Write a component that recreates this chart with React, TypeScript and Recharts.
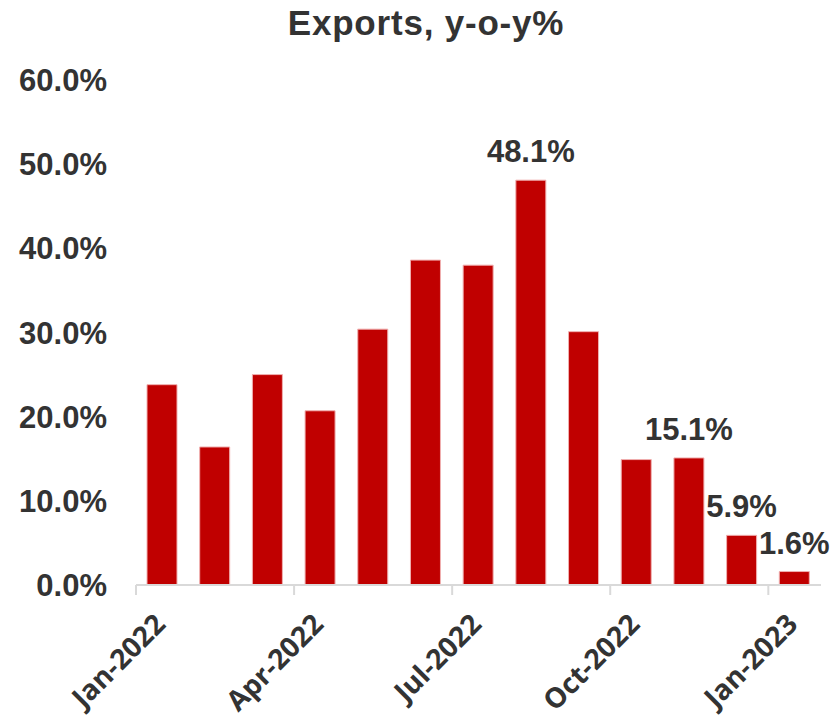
import React from "react";
import { BarChart, Bar, XAxis, YAxis, LabelList } from "recharts";

const categories = [
  "Jan-2022", "Feb-2022", "Mar-2022", "Apr-2022", "May-2022", "Jun-2022", "Jul-2022",
  "Aug-2022", "Sep-2022", "Oct-2022", "Nov-2022", "Dec-2022", "Jan-2023",
];
const exportsYoY = [23.8, 16.4, 25.0, 20.7, 30.4, 38.6, 38.0, 48.1, 30.1, 14.9, 15.1, 5.9, 1.6];
const dataLabels = ["", "", "", "", "", "", "", "48.1%", "", "", "15.1%", "5.9%", "1.6%"];
const yTicks = [0, 10, 20, 30, 40, 50, 60];
const xTickPositions = [-0.5, 2.5, 5.5, 8.5, 11.5];

const data = categories.map((c, i) => ({ idx: i, name: c, value: exportsYoY[i], label: dataLabels[i] }));

const TEXT = "#333333";

const XTick = (props: any) => {
  const { x, y, payload } = props;
  const i = Math.round(payload.value + 0.5);
  const label = categories[i] ?? "";
  const ax = x + 31;
  const ay = y + 29;
  return (
    <text
      x={ax}
      y={ay}
      textAnchor="end"
      transform={`rotate(-45, ${ax}, ${ay})`}
      fill={TEXT}
      fontFamily="'Open Sans', sans-serif"
      fontWeight={700}
      fontSize={28}
    >
      {label}
    </text>
  );
};

export default function App() {
  return (
    <div style={{ position: "absolute", left: 0, top: 0, width: 830, height: 723, background: "#fff" }}>
      <div
        style={{
          position: "absolute",
          left: 0,
          width: 852,
          top: 2,
          textAlign: "center",
          fontFamily: "'Liberation Sans', Arial, sans-serif",
          fontWeight: 700,
          fontSize: 35,
          color: TEXT,
          letterSpacing: 0.8,
          lineHeight: "42px",
        }}
      >
        Exports, y-o-y%
      </div>
      <BarChart width={830} height={723} data={data} margin={{ top: 80, right: 9, left: 0, bottom: 0 }}>
        <YAxis
          type="number"
          domain={[0, 60]}
          ticks={yTicks}
          axisLine={false}
          tickLine={false}
          width={136}
          tickMargin={23}
          tickFormatter={(v: number) => `${v.toFixed(1)}%`}
          tick={{ fill: TEXT, fontSize: 31, fontWeight: 700, fontFamily: "'Liberation Sans', Arial, sans-serif" }}
        />
        <XAxis
          dataKey="idx"
          type="number"
          domain={[-0.5, 12.5]}
          ticks={xTickPositions}
          interval={0}
          height={138}
          axisLine={{ stroke: "#d9d9d9", strokeWidth: 2 }}
          tickLine={{ stroke: "#d9d9d9", strokeWidth: 2 }}
          tickSize={10}
          tick={<XTick />}
        />
        <Bar dataKey="value" fill="#C00000" stroke="#f0b0b0" strokeWidth={1} barSize={30} isAnimationActive={false}>
          <LabelList
            dataKey="label"
            position="top"
            offset={18}
            fill={TEXT}
            fontSize={31}
            fontWeight={700}
            fontFamily="'Liberation Sans', Arial, sans-serif"
          />
        </Bar>
      </BarChart>
    </div>
  );
}
